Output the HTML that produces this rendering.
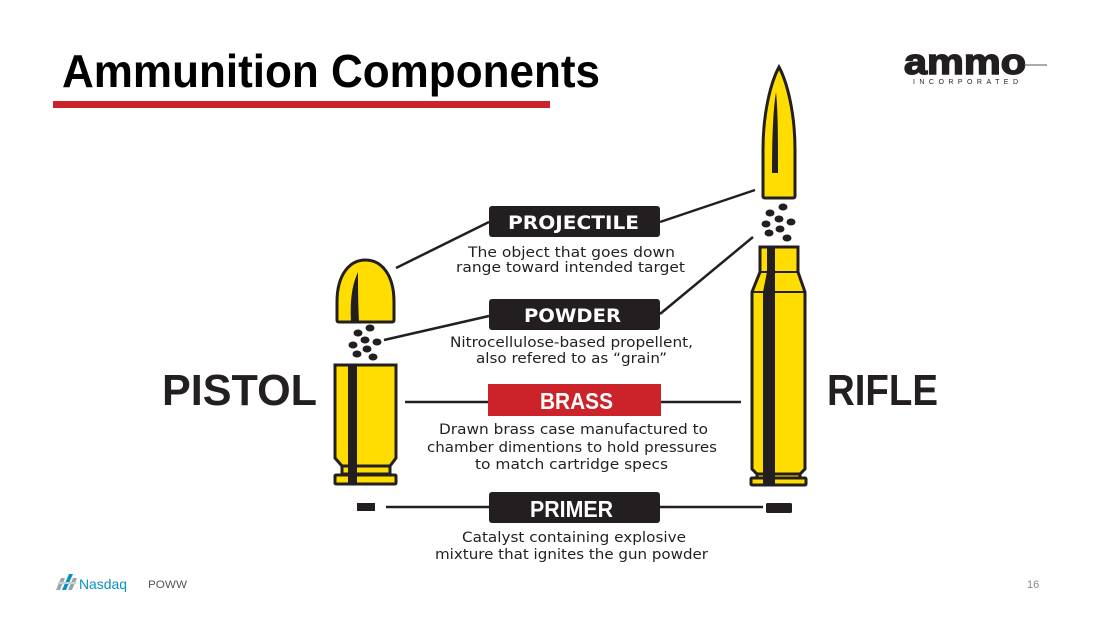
<!DOCTYPE html>
<html>
<head>
<meta charset="utf-8">
<style>
  html,body{margin:0;padding:0;background:#fff;}
  body{width:1100px;height:618px;overflow:hidden;}
  svg{display:block;}
  .d{font-family:"DejaVu Sans","Liberation Sans",sans-serif;font-size:14px;fill:#231f20;}
  .bx{font-family:"DejaVu Sans","Liberation Sans",sans-serif;font-weight:bold;fill:#fff;}
  .bc{font-family:"Liberation Sans",sans-serif;font-weight:bold;fill:#fff;}
</style>
</head>
<body>
<svg width="1100" height="618" viewBox="0 0 1100 618" xmlns="http://www.w3.org/2000/svg">
  <rect width="1100" height="618" fill="#fff"/>

  <!-- Title -->
  <text x="62" y="87" font-family="Liberation Sans, sans-serif" font-weight="bold" font-size="46" fill="#000" textLength="538" lengthAdjust="spacingAndGlyphs">Ammunition Components</text>
  <rect x="53" y="101" width="497" height="7" fill="#cc2229"/>

  <!-- Logo -->
  <text x="904" y="74" font-family="Liberation Sans, sans-serif" font-weight="bold" font-size="36" fill="#231f20" stroke="#231f20" stroke-width="1.5" textLength="122" lengthAdjust="spacingAndGlyphs">ammo</text>
  <line x1="1024" y1="65" x2="1047" y2="65" stroke="#555" stroke-width="1"/>
  <text x="913" y="84" font-family="Liberation Sans, sans-serif" font-size="7" fill="#231f20" textLength="105" lengthAdjust="spacing">INCORPORATED</text>

  <!-- PISTOL / RIFLE -->
  <text x="162" y="405" font-family="Liberation Sans, sans-serif" font-weight="bold" font-size="44" fill="#231f20" textLength="155" lengthAdjust="spacingAndGlyphs">PISTOL</text>
  <text x="827" y="405" font-family="Liberation Sans, sans-serif" font-weight="bold" font-size="44" fill="#231f20" textLength="111" lengthAdjust="spacingAndGlyphs">RIFLE</text>

  <!-- connector lines -->
  <g stroke="#231f20" stroke-width="2.5" fill="none">
    <line x1="396" y1="268" x2="489" y2="222"/>
    <line x1="660" y1="222" x2="755" y2="190"/>
    <line x1="384" y1="340" x2="489" y2="316"/>
    <line x1="660" y1="314" x2="753" y2="237"/>
    <line x1="405" y1="402" x2="488" y2="402"/>
    <line x1="661" y1="402" x2="741" y2="402"/>
    <line x1="386" y1="507" x2="489" y2="507"/>
    <line x1="660" y1="507" x2="763" y2="507"/>
  </g>

  <!-- Pistol bullet -->
  <path d="M337,320 L337,302 C337,274 350,260 365.5,260 C381,260 394,274 394,302 L394,320 Q394,322 392,322 L339,322 Q337,322 337,320 Z" fill="#ffdd00" stroke="#231f20" stroke-width="3"/>
  <path d="M358,272 C352,285 350,300 351,321 L359,321 C358,300 358,285 358,272 Z" fill="#231f20"/>

  <!-- Pistol powder -->
  <g fill="#231f20">
    <ellipse cx="370" cy="328" rx="4.5" ry="3.5"/>
    <ellipse cx="358" cy="333" rx="4.5" ry="3.5"/>
    <ellipse cx="365" cy="340" rx="4.5" ry="3.5"/>
    <ellipse cx="377" cy="342" rx="4.5" ry="3.5"/>
    <ellipse cx="353" cy="345" rx="4.5" ry="3.5"/>
    <ellipse cx="367" cy="349" rx="4.5" ry="3.5"/>
    <ellipse cx="357" cy="354" rx="4.5" ry="3.5"/>
    <ellipse cx="373" cy="357" rx="4.5" ry="3.5"/>
  </g>

  <!-- Pistol case -->
  <g stroke="#231f20" stroke-width="3" fill="#ffdd00">
    <polygon points="335,365 396,365 396,458 390,466 342,466 335,458"/>
    <rect x="342" y="466" width="48" height="8"/>
    <rect x="335" y="475" width="61" height="9" rx="1"/>
  </g>
  <rect x="348" y="365" width="9" height="119" fill="#231f20"/>
  <!-- Pistol primer -->
  <rect x="357" y="503" width="18" height="8" fill="#231f20"/>

  <!-- Rifle bullet -->
  <path d="M763,196 L763,150 C763,112 771,82 779,67 C787,82 795,112 795,150 L795,196 Q795,198 793,198 L765,198 Q763,198 763,196 Z" fill="#ffdd00" stroke="#231f20" stroke-width="3"/>
  <path d="M776,92 C773,110 772,140 772,173 L778,173 C778,140 778,110 776,92 Z" fill="#231f20"/>

  <!-- Rifle powder -->
  <g fill="#231f20">
    <ellipse cx="783" cy="207" rx="4.5" ry="3.5"/>
    <ellipse cx="770" cy="213" rx="4.5" ry="3.5"/>
    <ellipse cx="779" cy="219" rx="4.5" ry="3.5"/>
    <ellipse cx="791" cy="222" rx="4.5" ry="3.5"/>
    <ellipse cx="766" cy="224" rx="4.5" ry="3.5"/>
    <ellipse cx="780" cy="229" rx="4.5" ry="3.5"/>
    <ellipse cx="769" cy="233" rx="4.5" ry="3.5"/>
    <ellipse cx="787" cy="238" rx="4.5" ry="3.5"/>
  </g>

  <!-- Rifle case -->
  <g stroke="#231f20" stroke-width="3" fill="#ffdd00">
    <polygon points="760,247 798,247 798,272 805,292 805,469 800,474 757,474 752,469 752,292 760,272"/>
    <rect x="757" y="474" width="43" height="4"/>
    <rect x="751" y="478" width="55" height="7" rx="1"/>
  </g>
  <line x1="760" y1="272" x2="798" y2="272" stroke="#231f20" stroke-width="2"/>
  <line x1="752" y1="292" x2="805" y2="292" stroke="#231f20" stroke-width="2"/>
  <rect x="767" y="247" width="8" height="25" fill="#231f20"/>
  <polygon points="767,272 775,272 775,292 763,292" fill="#231f20"/>
  <rect x="763" y="292" width="12" height="193" fill="#231f20"/>
  <!-- Rifle primer -->
  <rect x="766" y="503" width="26" height="10" rx="1.5" fill="#231f20"/>

  <!-- Label boxes -->
  <rect x="489" y="206" width="171" height="31" rx="3" fill="#231f20"/>
  <text class="bx" x="508" y="229" font-size="19" textLength="131" lengthAdjust="spacingAndGlyphs">PROJECTILE</text>

  <rect x="489" y="299" width="171" height="31" rx="3" fill="#231f20"/>
  <text class="bx" x="524" y="322" font-size="19" textLength="97" lengthAdjust="spacingAndGlyphs">POWDER</text>

  <rect x="488" y="384" width="173" height="32" fill="#cc2229"/>
  <text class="bc" x="540" y="409" font-size="23" textLength="73" lengthAdjust="spacingAndGlyphs">BRASS</text>

  <rect x="489" y="492" width="171" height="31" rx="3" fill="#231f20"/>
  <text class="bc" x="530" y="517" font-size="23" textLength="83" lengthAdjust="spacingAndGlyphs">PRIMER</text>

  <!-- Descriptions -->
  <text class="d" x="468" y="257" textLength="207" lengthAdjust="spacingAndGlyphs">The object that goes down</text>
  <text class="d" x="456" y="272" textLength="229" lengthAdjust="spacingAndGlyphs">range toward intended target</text>

  <text class="d" x="450" y="347" textLength="243" lengthAdjust="spacingAndGlyphs">Nitrocellulose-based propellent,</text>
  <text class="d" x="476" y="363" textLength="191" lengthAdjust="spacingAndGlyphs">also refered to as “grain”</text>

  <text class="d" x="439" y="434" textLength="269" lengthAdjust="spacingAndGlyphs">Drawn brass case manufactured to</text>
  <text class="d" x="427" y="452" textLength="290" lengthAdjust="spacingAndGlyphs">chamber dimentions to hold pressures</text>
  <text class="d" x="475" y="469" textLength="193" lengthAdjust="spacingAndGlyphs">to match cartridge specs</text>

  <text class="d" x="462" y="542" textLength="224" lengthAdjust="spacingAndGlyphs">Catalyst containing explosive</text>
  <text class="d" x="435" y="559" textLength="273" lengthAdjust="spacingAndGlyphs">mixture that ignites the gun powder</text>

  <!-- Footer -->
  <g>
    <polygon points="56,590 61,578 65,578 60,590" fill="#9aa3aa"/>
    <polygon points="62,590 69,574 73,574 66,590" fill="#0a8fc2"/>
    <polygon points="68,590 73,578 77,578 72,590" fill="#9aa3aa"/>
    <rect x="58" y="582" width="18" height="2" fill="#c9d0d5"/>
  </g>
  <text x="79" y="589" font-family="Liberation Sans, sans-serif" font-size="14" fill="#0a8fc2" textLength="48" lengthAdjust="spacingAndGlyphs">Nasdaq</text>
  <text x="148" y="588" font-family="Liberation Sans, sans-serif" font-size="11" fill="#555" textLength="39" lengthAdjust="spacingAndGlyphs">POWW</text>
  <text x="1027" y="588" font-family="Liberation Sans, sans-serif" font-size="11" fill="#888">16</text>
</svg>
</body>
</html>
